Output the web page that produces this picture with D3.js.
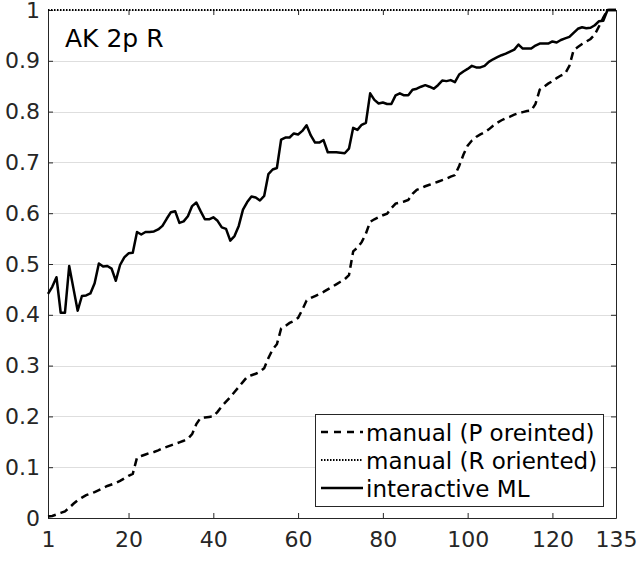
<!DOCTYPE html>
<html>
<head>
<meta charset="utf-8">
<script src="https://cdn.jsdelivr.net/npm/d3@7"></script>
<style>
  body { margin: 0; background: #fff; }
  svg { font-family: "DejaVu Sans", sans-serif; }
</style>
</head>
<body>
<svg width="638" height="565"></svg>
<script>
// x ticks and y ticks
var xTicks = [1, 20, 40, 60, 80, 100, 120, 135];
var yTicks = [0, 0.1, 0.2, 0.3, 0.4, 0.5, 0.6, 0.7, 0.8, 0.9, 1];

// interactive ML (solid), index 1..135
var interactiveML = [
  0.441, 0.455, 0.474, 0.404, 0.404, 0.496, 0.452, 0.408, 0.437, 0.438,
  0.442, 0.462, 0.501, 0.495, 0.496, 0.491, 0.467, 0.498, 0.513, 0.521,
  0.522, 0.563, 0.558, 0.563, 0.563, 0.564, 0.568, 0.575, 0.589, 0.602,
  0.604, 0.581, 0.584, 0.594, 0.614, 0.621, 0.604, 0.588, 0.588, 0.592,
  0.585, 0.572, 0.569, 0.546, 0.555, 0.575, 0.607, 0.622, 0.633, 0.631,
  0.625, 0.634, 0.677, 0.686, 0.689, 0.745, 0.749, 0.749, 0.757, 0.755,
  0.762, 0.773, 0.753, 0.739, 0.739, 0.744, 0.720, 0.720, 0.720, 0.719,
  0.718, 0.727, 0.768, 0.764, 0.774, 0.778, 0.836, 0.823, 0.816, 0.818,
  0.815, 0.815, 0.832, 0.836, 0.832, 0.832, 0.843, 0.845, 0.849, 0.852,
  0.849, 0.845, 0.852, 0.861, 0.860, 0.862, 0.858, 0.873, 0.879, 0.884,
  0.890, 0.887, 0.887, 0.890, 0.898, 0.903, 0.907, 0.911, 0.914, 0.918,
  0.922, 0.932, 0.924, 0.924, 0.924, 0.930, 0.934, 0.934, 0.934, 0.938,
  0.936, 0.941, 0.944, 0.947, 0.955, 0.963, 0.966, 0.964, 0.965, 0.970,
  0.978, 0.979, 1.0, 1.0, 1.0
];

// manual (P oriented), dashed
var manualP = [
  0.003, 0.004, 0.007, 0.010, 0.013, 0.020, 0.028, 0.035, 0.040, 0.045,
  0.048, 0.051, 0.055, 0.059, 0.063, 0.066, 0.069, 0.073, 0.078, 0.083,
  0.087, 0.119, 0.122, 0.125, 0.128, 0.130, 0.133, 0.137, 0.140, 0.143,
  0.146, 0.149, 0.152, 0.156, 0.165, 0.185, 0.197, 0.198, 0.199, 0.200,
  0.209, 0.220, 0.229, 0.238, 0.248, 0.258, 0.268, 0.278, 0.281, 0.284,
  0.288, 0.295, 0.315, 0.332, 0.342, 0.373, 0.378, 0.384, 0.388, 0.394,
  0.410, 0.428, 0.433, 0.437, 0.441, 0.445, 0.450, 0.455, 0.460, 0.465,
  0.470, 0.478, 0.525, 0.532, 0.543, 0.560, 0.583, 0.588, 0.592, 0.596,
  0.599, 0.610, 0.619, 0.621, 0.623, 0.626, 0.638, 0.646, 0.649, 0.653,
  0.656, 0.659, 0.662, 0.665, 0.668, 0.672, 0.675, 0.693, 0.715, 0.733,
  0.743, 0.750, 0.755, 0.759, 0.765, 0.772, 0.778, 0.783, 0.787, 0.790,
  0.794, 0.797, 0.799, 0.801, 0.802, 0.815, 0.843, 0.849, 0.855, 0.860,
  0.866, 0.871, 0.875, 0.890, 0.921, 0.927, 0.933, 0.938, 0.943, 0.952,
  0.968, 0.985, 1.0, 1.0, 1.0
];

// manual (R oriented), dotted - all at 1
var manualR = [];
for (var k = 0; k < 135; k++) manualR.push(1);

var legendLabels = ["manual (P oreinted)", "manual (R oriented)", "interactive ML"];
var titleText = "AK 2p R";

var svg = d3.select("svg");
// plot box (note: "top" is reserved on window, so use other names)
var plotLeft = 48, plotRight = 616, plotTop = 10, plotBottom = 518;
var axisColor = "#262626";

var x = d3.scaleLinear().domain([1, 135]).range([plotLeft, plotRight]);
var y = d3.scaleLinear().domain([0, 1]).range([plotBottom, plotTop]);

// grid
svg.append("g")
  .selectAll("line")
  .data(yTicks)
  .enter()
  .append("line")
  .attr("x1", plotLeft)
  .attr("x2", plotRight)
  .attr("y1", function (d) { return Math.round(y(d)) + 0.5; })
  .attr("y2", function (d) { return Math.round(y(d)) + 0.5; })
  .attr("stroke", "#dedede")
  .attr("stroke-width", 1);

var fmt = function (d) { return String(+d.toFixed(1)); };

// axes
var gx = svg.append("g")
  .attr("transform", "translate(0," + plotBottom + ")")
  .call(d3.axisBottom(x).tickValues(xTicks).tickSize(-5).tickSizeOuter(0).tickPadding(13));
var gy = svg.append("g")
  .attr("transform", "translate(" + plotLeft + ",0)")
  .call(d3.axisLeft(y).tickValues(yTicks).tickFormat(fmt).tickSize(-5).tickSizeOuter(0).tickPadding(8));
var gt = svg.append("g")
  .attr("transform", "translate(0," + plotTop + ")")
  .call(d3.axisTop(x).tickValues(xTicks).tickSize(-5).tickSizeOuter(0).tickFormat(""));
var gr = svg.append("g")
  .attr("transform", "translate(" + plotRight + ",0)")
  .call(d3.axisRight(y).tickValues(yTicks).tickSize(-5).tickSizeOuter(0).tickFormat(""));

gt.select(".domain").remove();
[gx, gy, gt, gr].forEach(function (g) {
  g.selectAll(".domain").attr("stroke", axisColor);
  g.selectAll(".tick line").attr("stroke", axisColor);
  g.selectAll("text")
    .attr("fill", axisColor)
    .style("font-family", "DejaVu Sans")
    .style("font-size", "22px");
});

// lines
var line = d3.line()
  .x(function (d, i) { return x(i + 1); })
  .y(function (d) { return y(d); });

svg.append("path")
  .datum(manualP)
  .attr("d", line)
  .attr("fill", "none")
  .attr("stroke", "#000")
  .attr("stroke-width", 2.5)
  .attr("stroke-dasharray", "8,5");

svg.append("path")
  .datum(manualR)
  .attr("d", line)
  .attr("fill", "none")
  .attr("stroke", "#000")
  .attr("stroke-width", 2)
  .attr("stroke-dasharray", "1.5,1.5");

svg.append("path")
  .datum(interactiveML)
  .attr("d", line)
  .attr("fill", "none")
  .attr("stroke", "#000")
  .attr("stroke-width", 2.5)
  .attr("stroke-linejoin", "round");

// title text inside
svg.append("text")
  .attr("x", 65)
  .attr("y", 47)
  .attr("fill", "#000")
  .style("font-size", "25px")
  .text(titleText);

// legend
var legend = svg.append("g");
legend.append("rect")
  .attr("x", 315.5)
  .attr("y", 414.5)
  .attr("width", 288)
  .attr("height", 92)
  .attr("fill", "#fff")
  .attr("stroke", axisColor)
  .attr("stroke-width", 1);

var legendStyles = [
  { dash: "7,6", width: 2.5 },
  { dash: "1.5,1.5", width: 2 },
  { dash: null, width: 2.5 }
];
var rowY = [432, 460, 488];

legendLabels.forEach(function (lab, i) {
  legend.append("line")
    .attr("x1", 321)
    .attr("x2", 363)
    .attr("y1", rowY[i])
    .attr("y2", rowY[i])
    .attr("stroke", "#000")
    .attr("stroke-width", legendStyles[i].width)
    .attr("stroke-dasharray", legendStyles[i].dash);
  legend.append("text")
    .attr("x", 366)
    .attr("y", rowY[i] + 9)
    .attr("fill", "#000")
    .style("font-size", "23px")
    .text(lab);
});
</script>
</body>
</html>
